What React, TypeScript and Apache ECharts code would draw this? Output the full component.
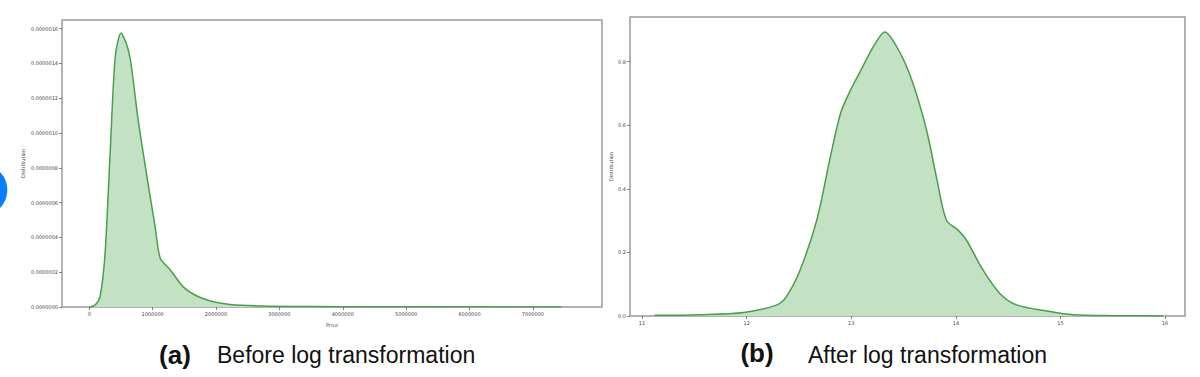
import React, { useEffect, useRef } from "react";
import * as echarts from "echarts";

// (a) Before log transformation: KDE of Price
const priceX = [0, 95000, 170000, 250000, 330000, 410000, 500000, 580000, 650000, 770000, 910000, 1040000, 1120000, 1280000, 1480000, 1700000, 1960000, 2220000, 2740000, 3500000, 4500000, 5500000, 6500000, 7450000];
const priceY = [0, 1.2e-8, 5.9e-8, 3.1e-7, 8.9e-7, 1.44e-6, 1.575e-6, 1.52e-6, 1.42e-6, 1.08e-6, 7.5e-7, 4.6e-7, 2.8e-7, 2.13e-7, 1.17e-7, 6.3e-8, 3.0e-8, 1.5e-8, 6e-9, 3e-9, 1.5e-9, 1e-9, 5e-10, 0];
const priceXTicks = [0, 1000000, 2000000, 3000000, 4000000, 5000000, 6000000, 7000000];
const priceYTicks = [0, 2e-7, 4e-7, 6e-7, 8e-7, 1e-6, 1.2e-6, 1.4e-6, 1.6e-6];

// (b) After log transformation: KDE of log(Price)
const logX = [11.12, 11.55, 11.97, 12.29, 12.38, 12.51, 12.67, 12.8, 12.9, 13.0, 13.08, 13.21, 13.32, 13.47, 13.59, 13.72, 13.82, 13.91, 14.02, 14.1, 14.26, 14.42, 14.58, 14.9, 15.12, 15.5, 15.98];
const logY = [0.002, 0.004, 0.011, 0.035, 0.061, 0.144, 0.301, 0.5, 0.64, 0.715, 0.765, 0.846, 0.893, 0.825, 0.731, 0.584, 0.427, 0.301, 0.27, 0.239, 0.144, 0.071, 0.035, 0.014, 0.004, 0.001, 0];
const logXTicks = [11, 12, 13, 14, 15, 16];
const logYTicks = [0, 0.2, 0.4, 0.6, 0.8];

const captionA = ["(a)", "Before log transformation"];
const captionB = ["(b)", "After log transformation"];

const LINE = "#4a9e4a";
const FILL = "#c3e2c3";
const tickLabel = { fontSize: 5, color: "#444", fontFamily: "DejaVu Sans" };

export default function App() {
  const ref = useRef<HTMLDivElement>(null);
  useEffect(() => {
    if (!ref.current) return;
    const chart = echarts.init(ref.current, null, { renderer: "svg" });
    const gridStyle = { show: true, borderColor: "#9a9a9a", borderWidth: 1.5, backgroundColor: "#fff" };
    const commonAxis = {
      splitLine: { show: false },
      axisLine: { show: false, onZero: false },
      axisTick: { show: true, length: 3, lineStyle: { color: "#666", width: 0.8 } },
    };
    chart.setOption({
      animation: false,
      grid: [
        { left: 62, top: 20, width: 540, height: 287, ...gridStyle },
        { left: 630, top: 17, width: 555, height: 299, ...gridStyle },
      ],
      xAxis: [
        {
          type: "value", gridIndex: 0, min: -430000, max: 8090000, position: "bottom", ...commonAxis,
          axisTick: { ...commonAxis.axisTick, customValues: priceXTicks },
          axisLabel: { ...tickLabel, margin: 4, customValues: priceXTicks, formatter: (v: number) => String(Math.round(v)) },
          name: "Price", nameLocation: "middle", nameGap: 15, nameTextStyle: { ...tickLabel },
        },
        {
          type: "value", gridIndex: 1, min: 10.885, max: 16.19, position: "bottom", ...commonAxis,
          axisTick: { ...commonAxis.axisTick, customValues: logXTicks },
          axisLabel: { ...tickLabel, margin: 4, customValues: logXTicks, formatter: (v: number) => String(Math.round(v)) },
        },
      ],
      yAxis: [
        {
          type: "value", gridIndex: 0, min: 0, max: 1.65e-6, position: "left", ...commonAxis,
          axisTick: { ...commonAxis.axisTick, customValues: priceYTicks },
          axisLabel: { ...tickLabel, margin: 4, customValues: priceYTicks, formatter: (v: number) => v.toFixed(7) },
          name: "Distribution", nameLocation: "middle", nameGap: 37, nameRotate: 90, nameTextStyle: { ...tickLabel },
        },
        {
          type: "value", gridIndex: 1, min: 0, max: 0.94, position: "left", ...commonAxis,
          axisTick: { ...commonAxis.axisTick, customValues: logYTicks },
          axisLabel: { ...tickLabel, margin: 4, customValues: logYTicks, formatter: (v: number) => v.toFixed(1) },
          name: "Distribution", nameLocation: "middle", nameGap: 17, nameRotate: 90, nameTextStyle: { ...tickLabel },
        },
      ],
      series: [
        {
          type: "line", xAxisIndex: 0, yAxisIndex: 0, showSymbol: false, smooth: 0.25,
          data: priceX.map((x, i) => [x, priceY[i]]),
          lineStyle: { color: LINE, width: 1.5 }, areaStyle: { color: FILL, opacity: 1 },
        },
        {
          type: "line", xAxisIndex: 1, yAxisIndex: 1, showSymbol: false, smooth: 0.3,
          data: logX.map((x, i) => [x, logY[i]]),
          lineStyle: { color: LINE, width: 1.5 }, areaStyle: { color: FILL, opacity: 1 },
        },
      ],
      graphic: [
        { type: "circle", shape: { cx: -18.5, cy: 190, r: 25.8 }, style: { fill: "#0a7cff" } },
        { type: "text", x: 175, y: 355, style: { text: captionA[0], font: "bold 26px 'Liberation Sans', Arial, sans-serif", fill: "#111", textAlign: "center", textVerticalAlign: "middle" } },
        { type: "text", x: 217, y: 355, style: { text: captionA[1], font: "23px 'Liberation Sans', Arial, sans-serif", fill: "#111", textAlign: "left", textVerticalAlign: "middle" } },
        { type: "text", x: 757, y: 353, style: { text: captionB[0], font: "bold 26px 'Liberation Sans', Arial, sans-serif", fill: "#111", textAlign: "center", textVerticalAlign: "middle" } },
        { type: "text", x: 808, y: 355, style: { text: captionB[1], font: "23px 'Liberation Sans', Arial, sans-serif", fill: "#111", textAlign: "left", textVerticalAlign: "middle" } },
      ],
    });
    return () => chart.dispose();
  }, []);
  return <div ref={ref} style={{ position: "fixed", left: 0, top: 0, width: 1200, height: 377, background: "#fff" }} />;
}
